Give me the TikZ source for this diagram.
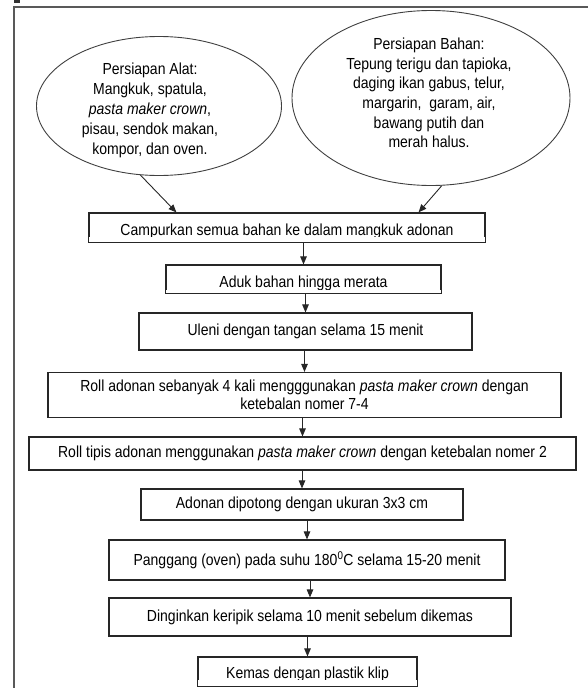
\documentclass[tikz,border=0pt]{standalone}
\usepackage{fontspec}
\setmainfont[FakeStretch=0.875]{Liberation Sans}
\usetikzlibrary{shapes.geometric,arrows.meta}
\tikzstyle{every node}=[font=\fontsize{16}{18}\selectfont, inner sep=0pt]
\tikzstyle{stepbox}=[draw=black!85, line width=1.1pt, align=center, fill=white]
\tikzstyle{prep}=[draw=black!75, line width=0.9pt, ellipse]
\tikzstyle{preptext}=[align=center, font=\fontsize{16}{20}\selectfont]
\tikzstyle{flow}=[-{Triangle[length=8pt,width=6.5pt]}, line width=0.9pt, black!85]

\begin{document}
\begin{tikzpicture}[x=1pt, y=-1pt]
\useasboundingbox (0,0) rectangle (588,688);
% Frame
\draw[black!65, line width=1.5pt] (14,690) -- (14,7) -- (590,7);
\fill[black!80] (14,0) rectangle (20,2.5);
% Preparation
\node[prep, minimum width=245pt, minimum height=139pt] (alat) at (159,106) {};
\node[preptext] (alattext) at (150,110) {Persiapan Alat:\\Mangkuk, spatula,\\\textit{pasta maker crown},\\pisau, sendok makan,\\kompor, dan oven.};
\node[prep, minimum width=278pt, minimum height=175pt] (bahan) at (431,98) {};
\node[preptext, font=\fontsize{16}{19.6}\selectfont] (bahantext) at (429,93) {Persiapan Bahan:\\Tepung terigu dan tapioka,\\daging ikan gabus, telur,\\margarin,~ garam, air,\\bawang putih dan\\merah halus.};
% Steps
\node[stepbox, minimum width=396pt, minimum height=29pt] (mix) at (287,227.5) {\raisebox{-7.5pt}[0pt][0pt]{Campurkan semua bahan ke dalam mangkuk adonan}};
\node[stepbox, minimum width=275pt, minimum height=28pt] (aduk) at (303.5,279) {\raisebox{-8.4pt}[0pt][0pt]{Aduk bahan hingga merata}};
\node[stepbox, minimum width=333pt, minimum height=37pt] (uleni) at (305.5,331.5) {Uleni dengan tangan selama 15 menit};
\node[stepbox, minimum width=513pt, minimum height=45pt] (roll) at (304.5,395) {Roll adonan sebanyak 4 kali mengggunakan \textit{pasta maker crown} dengan\\ketebalan nomer 7-4};
\node[stepbox, minimum width=547pt, minimum height=33pt] (tipis) at (302.5,453.5) {Roll tipis adonan menggunakan \textit{pasta maker crown} dengan ketebalan nomer 2};
\node[stepbox, minimum width=322pt, minimum height=31pt] (potong) at (302,504.5) {Adonan dipotong dengan ukuran 3x3 cm};
\node[stepbox, minimum width=396pt, minimum height=40pt] (panggang) at (307,560) {Panggang (oven) pada suhu 180\textsuperscript{0}C selama 15-20 menit};
\node[stepbox, minimum width=402pt, minimum height=38pt] (dingin) at (310,617) {Dinginkan keripik selama 10 menit sebelum dikemas};
\node[stepbox, minimum width=219pt, minimum height=29pt] (kemas) at (307.5,671.5) {\raisebox{-6.5pt}[0pt][0pt]{Kemas dengan plastik klip}};
% Clipped descenders
\fill[white] ([shift={(0.7pt,0.7pt)}]mix.south west) rectangle ([shift={(-0.7pt,5.2pt)}]mix.south east);
\fill[white] ([shift={(0.7pt,0.7pt)}]aduk.south west) rectangle ([shift={(-0.7pt,3.8pt)}]aduk.south east);
\fill[white] ([shift={(0.7pt,0.7pt)}]kemas.south west) rectangle ([shift={(-0.7pt,6.2pt)}]kemas.south east);
% Arrows
\draw[flow] (alat.255) -- ([xshift=88pt]mix.north west);
\draw[flow] (bahan.277) -- ([xshift=-67pt]mix.north east);
\draw[flow] (mix.south -| aduk.north) -- (aduk.north);
\draw[flow] (aduk.south -| uleni.north) -- (uleni.north);
\draw[flow] (uleni.south -| roll.north) -- (roll.north);
\draw[flow] (roll.south -| tipis.north) -- (tipis.north);
\draw[flow] (tipis.south -| potong.north) -- (potong.north);
\draw[flow] (potong.south -| panggang.north) -- (panggang.north);
\draw[flow] (panggang.south -| dingin.north) -- (dingin.north);
\draw[flow] (dingin.south -| kemas.north) -- (kemas.north);
\end{tikzpicture}
\end{document}
